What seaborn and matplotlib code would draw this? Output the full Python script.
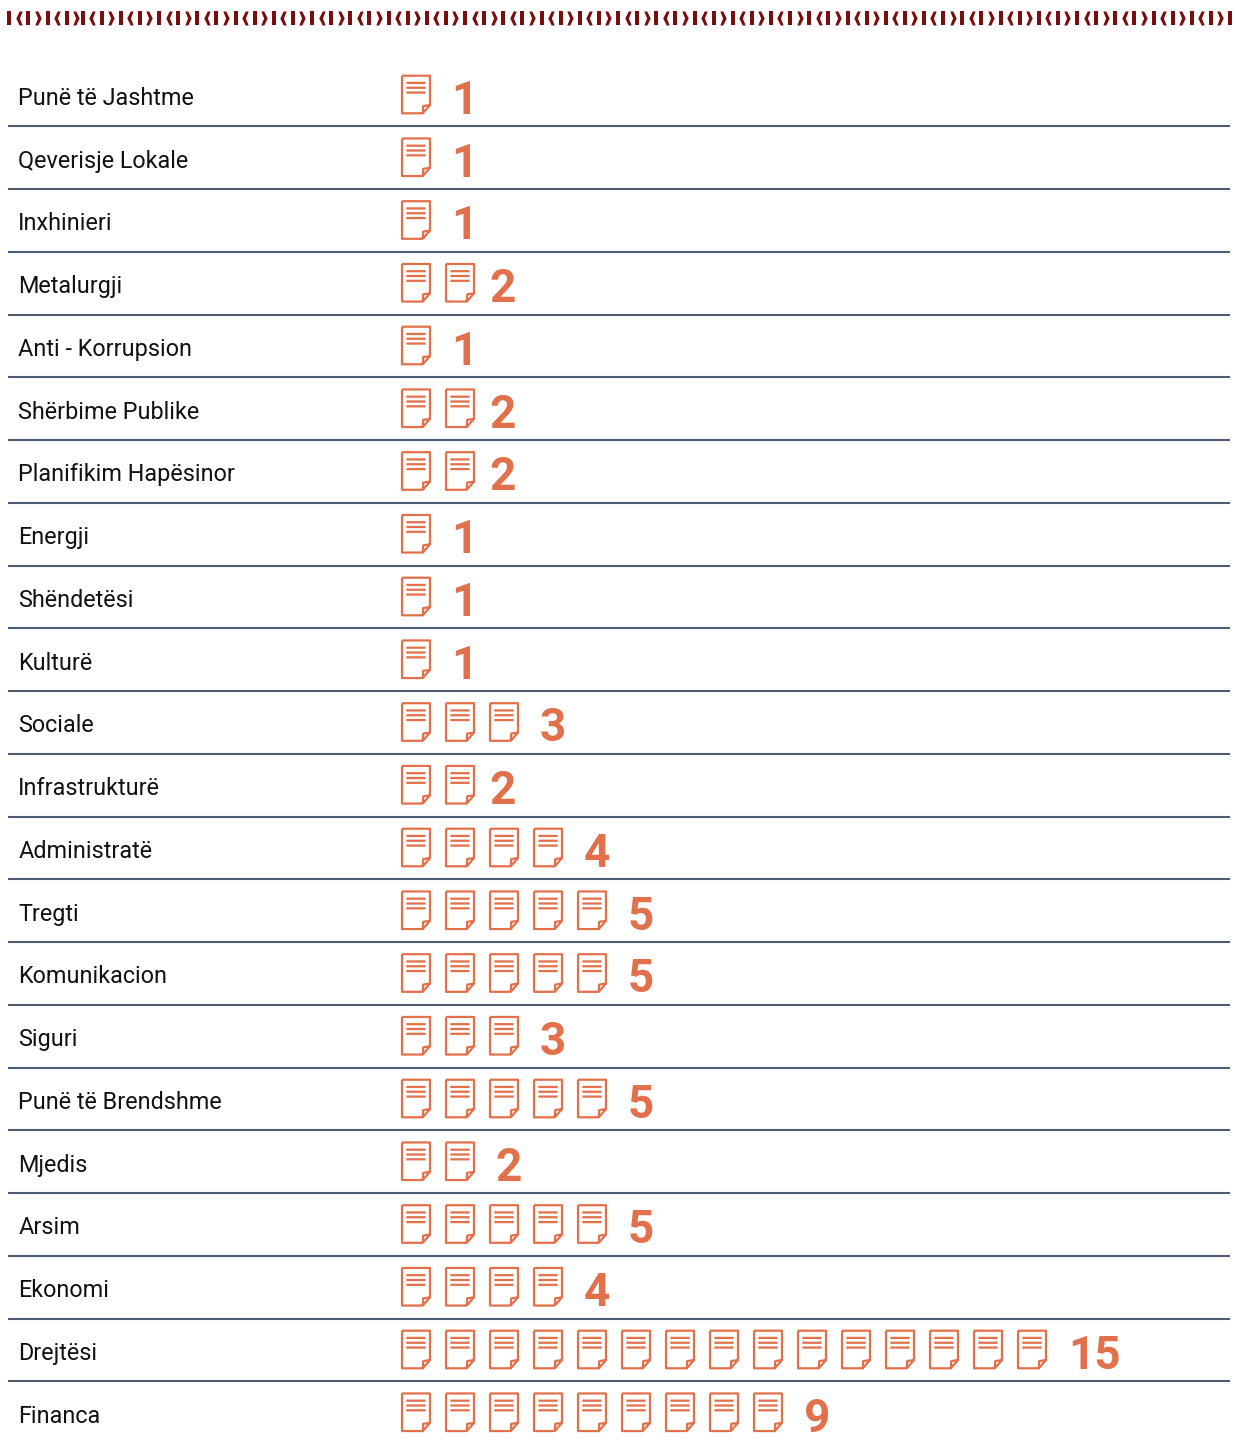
import numpy as np
import pandas as pd
import matplotlib
matplotlib.use("Agg")
import matplotlib.pyplot as plt
import seaborn as sns
from matplotlib.path import Path

categories = ["Punë të Jashtme", "Qeverisje Lokale", "Inxhinieri", "Metalurgji", "Anti - Korrupsion",
              "Shërbime Publike", "Planifikim Hapësinor", "Energji", "Shëndetësi", "Kulturë", "Sociale",
              "Infrastrukturë", "Administratë", "Tregti", "Komunikacion", "Siguri", "Punë të Brendshme",
              "Mjedis", "Arsim", "Ekonomi", "Drejtësi", "Financa"]
counts = [1, 1, 1, 2, 1, 2, 2, 1, 1, 1, 3, 2, 4, 5, 5, 3, 5, 2, 5, 4, 15, 9]

W, H = 1236, 1441
ORANGE = "#e2704a"
RED = "#7a0d0d"
LINE = "#4d5c72"

sns.set_theme(style="white")
plt.rcParams["font.family"] = ["Roboto", "DejaVu Sans"]

# icon outline in pixels around its centre
M, L = Path.MOVETO, Path.LINETO
doc_verts = [(-14.5, -19.5), (14.5, -19.5), (14.5, 11), (7, 19.5), (-14.5, 19.5), (-14.5, -19.5),
             (14.5, 11), (7.5, 12), (7, 19.5),
             (-10, -12), (10, -12), (-10, -7), (10, -7), (-10, -2), (10, -2)]
doc_codes = [M, L, L, L, L, L, M, L, L, M, L, M, L, M, L]
doc_icon = Path([(x, -y) for x, y in doc_verts], doc_codes)

# strip pieces
bar_icon = Path([(-1.8, -7), (1.8, -7), (1.8, 7), (-1.8, 7), (-1.8, -7)], [M, L, L, L, L])
left_icon = Path([(3.2, -7), (0.2, -7), (-3.2, 0), (0.2, 7), (3.2, 7), (0.4, 0), (3.2, -7)], [M, L, L, L, L, L, L])
right_icon = Path([(-3.2, -7), (-0.2, -7), (3.2, 0), (-0.2, 7), (-3.2, 7), (-0.4, 0), (-3.2, -7)], [M, L, L, L, L, L, L])

df = pd.DataFrame({"category": categories, "count": counts})
df["row"] = np.arange(len(df))
icons = df.loc[df.index.repeat(df["count"])].copy()
icons["slot"] = icons.groupby("row").cumcount() + 1

fig = plt.figure(figsize=(W / 100, H / 100), dpi=100, facecolor="white")
ax = fig.add_axes([0, 0, 1, 1])

# one slot = 44 px, one row = 62.75 px
sx, sy = 44, 62.75
x0, y0 = 416, 94.5
sns.scatterplot(data=icons, x="slot", y="row", marker=doc_icon, s=(37.6 * 0.72) ** 2,
                facecolor="none", edgecolor=ORANGE, linewidth=1.6, ax=ax, legend=False, zorder=3)
ax.set_xlim(1 - x0 / sx, 1 + (W - x0) / sx)
ax.set_ylim((H - y0) / sy, -y0 / sy)
ax.set_xlabel("")
ax.set_ylabel("")
ax.axis("off")

# separators, none under the last row
line_y = df["row"].iloc[:-1] + 31.8 / sy
ax.hlines(line_y, 1 + (8 - x0) / sx, 1 + (1230 - x0) / sx, color=LINE, linewidth=1.5)

for _, r in df.iterrows():
    ax.annotate(r["category"], xy=(18.3 / W, r["row"]), xycoords=ax.get_yaxis_transform(),
                xytext=(0, -2.8), textcoords="offset points", fontsize=16.8, color="#111111", va="center", ha="left")
    pad = {1: 35, 2: 29}.get(r["count"], 36)
    if r["category"] == "Mjedis":
        pad = 35
    ax.annotate(str(r["count"]), xy=(r["count"], r["row"]), xytext=(pad * 0.72, -4.6), textcoords="offset points",
                fontsize=33, fontweight="bold", color=ORANGE, va="center", ha="left")

# top strip, the pattern restarts once near x=80
unit_x = np.r_[9.3, 47.5, 82.7 + 38.25 * np.arange(30)]
pieces = [(0, bar_icon), (9.3, left_icon), (19, bar_icon), (28.5, right_icon), ]
for ux in unit_x:
    for off, marker in pieces:
        ax.scatter((ux + off - x0) / sx + 1, (18 - y0) / sy, marker=marker, s=(14 * 0.72) ** 2, color=RED, linewidth=0)
ax.scatter((unit_x[-1] + 38.25 - x0) / sx + 1, (18 - y0) / sy, marker=bar_icon, s=(14 * 0.72) ** 2, color=RED, linewidth=0)

fig.savefig("out.png", dpi=100, facecolor="white")
